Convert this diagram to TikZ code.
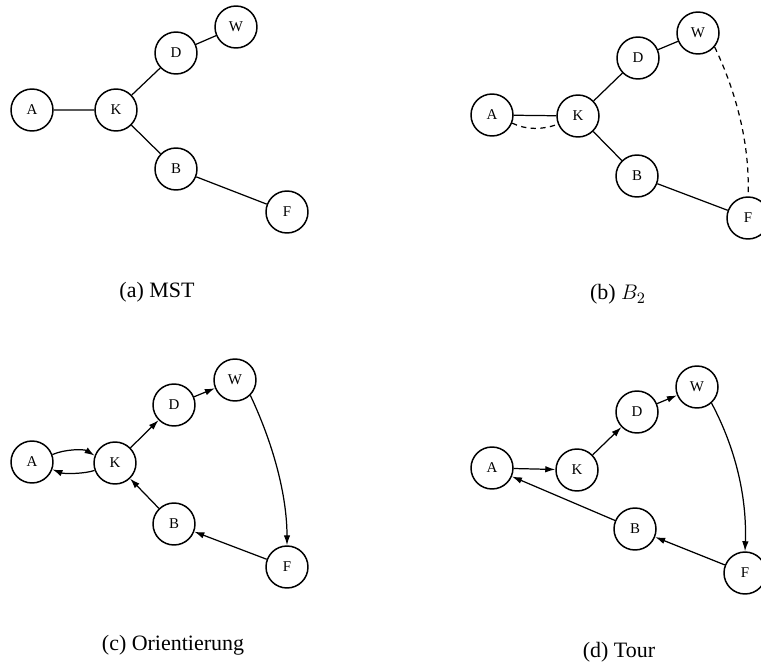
\documentclass[tikz,border=0pt]{standalone}
\usepackage{fontspec}
\setmainfont{Liberation Serif}
\usetikzlibrary{arrows.meta}

\begin{document}
\begin{tikzpicture}[x=0.02cm,y=-0.02cm,>={Latex[length=2mm,width=1.3mm]},
    knoten/.style={circle,draw,line width=0.85pt,minimum size=0.84cm,inner sep=0pt,font=\fontsize{8.5}{8.5}\selectfont},
    kante/.style={line width=0.7pt},
    zusatz/.style={kante,dash pattern=on 3pt off 2.5pt},
    titel/.style={anchor=base,font=\fontsize{12.5}{15}\selectfont}]
  \useasboundingbox (0,0) rectangle (761,662);

  % (a) Spannbaum
  \begin{scope}[name prefix=a-]
    \node[knoten] (A) at (32,110) {A};
    \node[knoten] (K) at (116,110) {K};
    \node[knoten] (D) at (176,53) {D};
    \node[knoten] (W) at (236,27) {W};
    \node[knoten] (B) at (176,169) {B};
    \node[knoten] (F) at (287,212) {F};
    \draw[kante] (A) -- (K) (K) -- (D) (D) -- (W) (K) -- (B) (B) -- (F);
    \node[titel] (T) at (157,297) {(a) MST};
  \end{scope}

  % (b) Baum plus Zusatzkanten
  \begin{scope}[name prefix=b-]
    \node[knoten] (A) at (492,115) {A};
    \node[knoten] (K) at (578,116) {K};
    \node[knoten] (D) at (638,58) {D};
    \node[knoten] (W) at (698,33) {W};
    \node[knoten] (B) at (637,176) {B};
    \node[knoten] (F) at (748,218) {F};
    \draw[kante] (A) -- (K) (K) -- (D) (D) -- (W) (K) -- (B) (B) -- (F);
    \draw[zusatz] (A.-22) .. controls (526,130) and (543,130) .. (K.-158);
    \draw[zusatz] (W.-40) .. controls (739,98) and (750,150) .. (F.north);
    \node[titel] (T) at (618,300) {(b) $B_2$};
  \end{scope}

  % (c) orientierte Kanten
  \begin{scope}[name prefix=c-]
    \node[knoten] (A) at (32,462) {A};
    \node[knoten] (K) at (115,463) {K};
    \node[knoten] (D) at (174,405) {D};
    \node[knoten] (W) at (235,380) {W};
    \node[knoten] (B) at (174,524) {B};
    \node[knoten] (F) at (287,567) {F};
    \draw[kante,->] (A.20) .. controls (65,449) and (84,449) .. (K.160);
    \draw[kante,->] (K.-160) .. controls (84,474) and (64,474) .. (A.-20);
    \foreach \u/\v in {K/D,D/W,F/B,B/K}
      \draw[kante,->] (\u) -- (\v);
    \draw[kante,->] (W.-45) .. controls (276,450) and (287,500) .. (F.north);
    \node[titel] (T) at (173,650) {(c) Orientierung};
  \end{scope}

  % (d) Tour
  \begin{scope}[name prefix=d-]
    \node[knoten] (A) at (492,468) {A};
    \node[knoten] (K) at (577,470) {K};
    \node[knoten] (D) at (637,412) {D};
    \node[knoten] (W) at (697,387) {W};
    \node[knoten] (B) at (635,529) {B};
    \node[knoten] (F) at (745,573) {F};
    \foreach \u/\v in {A/K,K/D,D/W,F/B,B/A}
      \draw[kante,->] (\u) -- (\v);
    \draw[kante,->] (W.-48) .. controls (736,449) and (747,498) .. (F.north);
    \node[titel] (T) at (619,657) {(d) Tour};
  \end{scope}
\end{tikzpicture}
\end{document}
